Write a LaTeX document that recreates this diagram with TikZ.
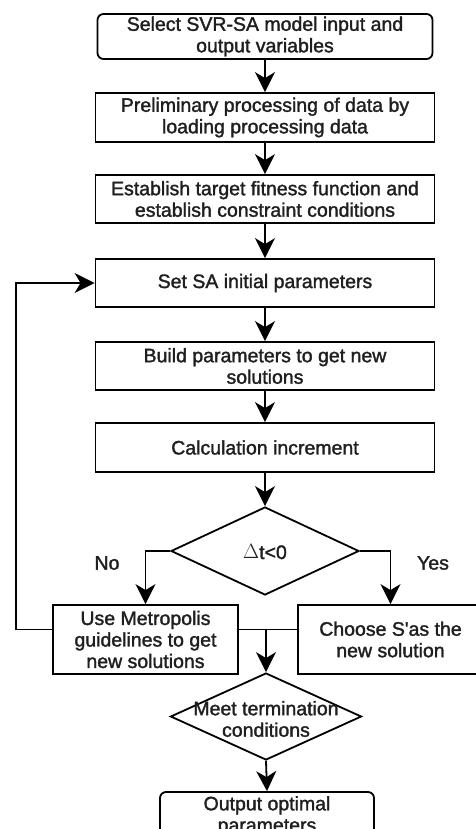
\documentclass[tikz,border=0pt]{standalone}
\usepackage{fontspec}
\setmainfont{Liberation Sans}
\newfontfamily\heavyfont{Liberation Sans}[FakeBold=1.6]
\usetikzlibrary{arrows.meta,shapes.geometric,calc}
\begin{document}
\begin{tikzpicture}[x=1pt,y=-1pt,
  every node/.style={font=\heavyfont\fontsize{19.5}{21.5}\selectfont, text=black!88},
  box/.style={draw, line width=1.8pt, align=center, inner sep=0pt, minimum width=339pt, minimum height=48pt},
  rbox/.style={box, rounded corners=6pt},
  sbox/.style={box, minimum width=185pt, minimum height=69pt},
  dia/.style={draw, diamond, line width=1.8pt, inner sep=0pt},
  arr/.style={draw, line width=1.8pt, -{Stealth[length=20pt,width=20pt,inset=6pt]}},
  ln/.style={draw, line width=1.8pt}]
\useasboundingbox (0,0) rectangle (475,829);
\fill[white] (0,0) rectangle (475,829);
\node[rbox, minimum width=335pt, minimum height=45pt] (b1) at (265,36.5) {Select SVR-SA model input and\\output variables};
\node[box, minimum height=49pt] (b2) at (265,117.5) {Preliminary processing of data by\\loading processing data};
\node[box] (b3) at (265,199) {Establish target fitness function and\\establish constraint conditions};
\node[box] (b4) at (265,283) {Set SA initial parameters};
\node[box] (b5) at (265,366) {Build parameters to get new\\solutions};
\node[box, minimum height=49pt] (b6) at (265,447.5) {Calculation increment};
\node[dia, minimum width=188pt, minimum height=88pt] (d1) at (265,551) {};
\node (t1) at (265,552) {$\Delta$t<0};
\node[sbox] (b7) at (145.5,639.5) {Use Metropolis\\guidelines to get\\new solutions};
\node[sbox] (b8) at (390.5,639.5) {Choose S\textquotesingle as the\\new solution};
\node[dia, minimum width=191pt, minimum height=87pt] (d2) at (266,716.5) {};
\node[align=center] (t2) at (266,719) {Meet termination\\conditions};
\node[rbox, minimum width=214pt, minimum height=48pt] (b9) at (267,816) {Output optimal\\parameters};
\node (no) at (107,563) {No};
\node (yes) at (433,563) {Yes};
\coordinate (l7) at ([yshift=10pt]b7.west);
\coordinate (r7) at ([yshift=10pt]b7.east);
\coordinate (l8) at ([yshift=10pt]b8.west);
\draw[arr] (b1) -- (b2);
\draw[arr] (b2) -- (b3);
\draw[arr] (b3) -- (b4);
\draw[arr] (b4) -- (b5);
\draw[arr] (b5) -- (b6);
\draw[arr] (b6) -- (d1);
\draw[arr] (d1.west) -| (b7.north);
\draw[arr] (d1.east) -| (b8.north);
\draw[arr] (l7) -- ++(-36,0) |- (b4.west);
\draw[ln] (r7) -- (l8);
\coordinate (m) at (d2.north |- r7);
\draw[arr] (m) -- (d2.north);
\draw[arr] (d2.south) -- (b9.north);
\end{tikzpicture}
\end{document}
